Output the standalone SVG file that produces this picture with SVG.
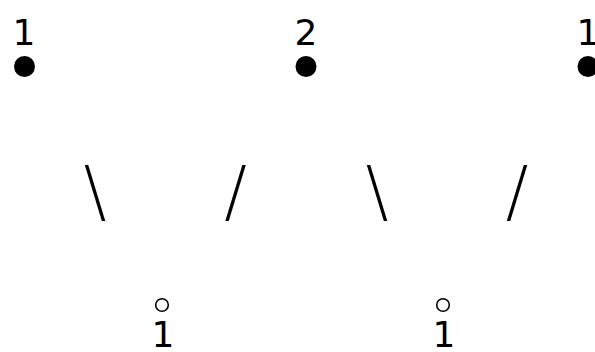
<svg xmlns="http://www.w3.org/2000/svg" width="595" height="352" viewBox="0 0 595 352">
<style>
.lbl{font-family:"DejaVu Sans",sans-serif;font-size:36px;fill:#000;text-anchor:middle}
.edge{font-family:"DejaVu Sans",sans-serif;font-size:67px;font-weight:200;fill:#000;text-anchor:middle}
.top{fill:#000}
.bot{fill:none;stroke:#000;stroke-width:1.6}
</style>
<rect width="595" height="352" fill="#fff"/>
<g id="connectors">
<text class="edge" x="95" y="214.5">\</text>
<text class="edge" x="235.5" y="214.5">/</text>
<text class="edge" x="377" y="214.5">\</text>
<text class="edge" x="517" y="214.5">/</text>
</g>
<g id="n1"><text class="lbl" x="24" y="45">1</text><circle class="top" cx="24.5" cy="66.5" r="10.5"/></g>
<g id="n2"><text class="lbl" x="306" y="45">2</text><circle class="top" cx="306" cy="66.5" r="10.5"/></g>
<g id="n3"><text class="lbl" x="588" y="45">1</text><circle class="top" cx="588" cy="66.5" r="10.5"/></g>
<g id="n4"><circle class="bot" cx="162" cy="305" r="6.3"/><text class="lbl" x="163" y="347">1</text></g>
<g id="n5"><circle class="bot" cx="443" cy="305" r="6.3"/><text class="lbl" x="444" y="347">1</text></g>
</svg>
